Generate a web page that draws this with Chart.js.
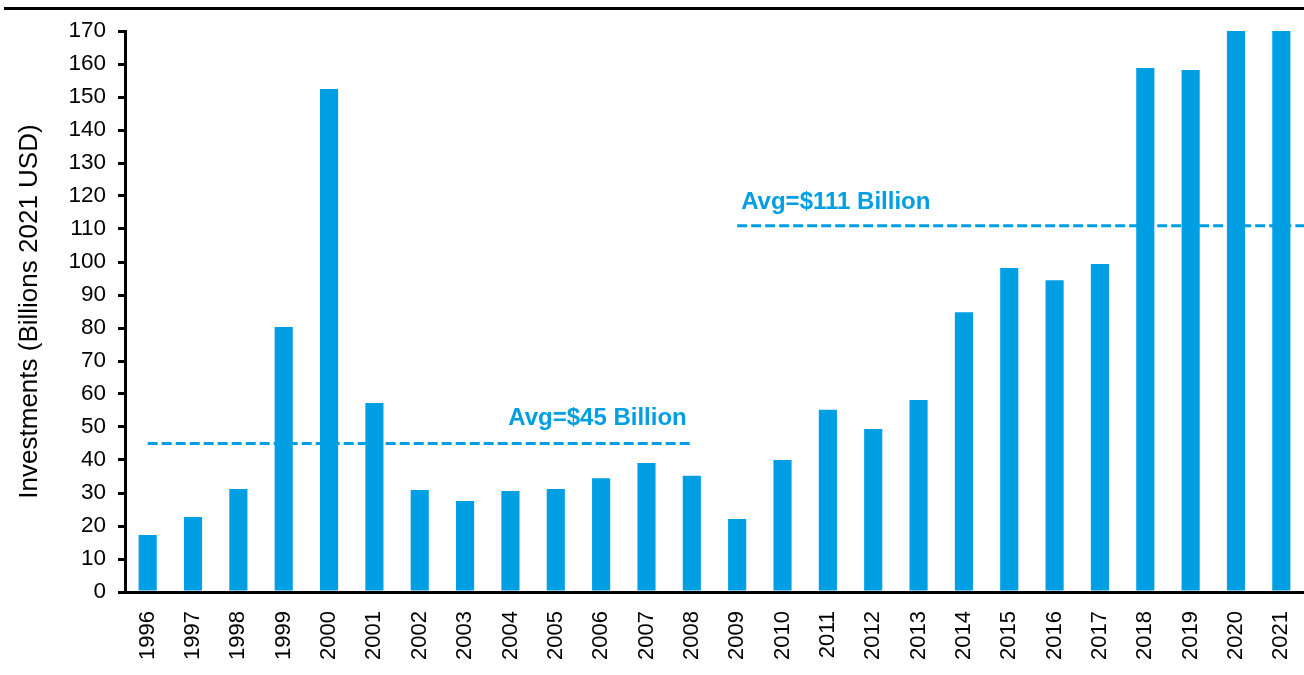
<!DOCTYPE html>
<html>
<head>
<meta charset="utf-8">
<script src="https://cdn.jsdelivr.net/npm/chart.js@4.4.0/dist/chart.umd.min.js"></script>
<style>
  html, body { margin: 0; padding: 0; background: #fff; }
  #wrap { position: relative; width: 1304px; height: 675px; }
  #topline { position: absolute; top: 7px; left: 4px; right: 0; height: 3px; background: #000; }
</style>
</head>
<body>
<div id="wrap">
  <div id="topline"></div>
  <canvas id="myChart" width="1304" height="675"></canvas>
</div>
<script>
const years = ['1996','1997','1998','1999','2000','2001','2002','2003','2004','2005','2006','2007','2008',
               '2009','2010','2011','2012','2013','2014','2015','2016','2017','2018','2019','2020','2021'];
const investments = [17.3, 22.7, 31.2, 80.3, 152.4, 57.3, 30.9, 27.6, 30.6, 31.2, 34.5, 39.1, 35.2,
                     22.1, 40.0, 55.2, 49.4, 58.2, 84.8, 98.2, 94.5, 99.4, 158.8, 158.2, 210, 314];
const avgEarly = [45, 45, 45, 45, 45, 45, 45, 45, 45, 45, 45, 45, 45,
                  null, null, null, null, null, null, null, null, null, null, null, null, null];
const avgLate = [null, null, null, null, null, null, null, null, null, null, null, null, null,
                 111, 111, 111, 111, 111, 111, 111, 111, 111, 111, 111, 111, 111];
const yTicks = [0, 10, 20, 30, 40, 50, 60, 70, 80, 90, 100, 110, 120, 130, 140, 150, 160, 170];

const blue = '#009FE3';
const font = 'Liberation Sans, Arial, sans-serif';
const dash = [10, 4];

// avg labels + stretch the late avg line to the plot edge
const avgLabels = {
    id: 'avgLabels',
    afterDatasetsDraw(chart) {
        const ctx = chart.ctx;
        const x = chart.scales.x, y = chart.scales.y;
        ctx.save();
        const last = avgLate.length - 1;
        ctx.strokeStyle = blue;
        ctx.lineWidth = 3;
        ctx.setLineDash(dash);
        ctx.beginPath();
        ctx.moveTo(x.getPixelForValue(last), y.getPixelForValue(avgLate[last]));
        ctx.lineTo(chart.chartArea.right, y.getPixelForValue(avgLate[last]));
        ctx.stroke();
        ctx.setLineDash([]);

        ctx.fillStyle = blue;
        ctx.font = 'bold 24px ' + font;
        ctx.textBaseline = 'middle';
        ctx.textAlign = 'center';
        ctx.fillText('Avg=$45 Billion', x.getPixelForValue(9.92), y.getPixelForValue(52.7));
        ctx.textAlign = 'left';
        ctx.fillText('Avg=$111 Billion', x.getPixelForValue(13) + 4, y.getPixelForValue(118));
        ctx.restore();
    }
};

function chartIt(){
    const ctx = document.getElementById('myChart').getContext('2d');
    const chart = new Chart(ctx, {
        type: 'bar',
        data: {
            labels: years,
            datasets: [{
                type: 'line',
                data: avgEarly,
                borderColor: blue,
                borderWidth: 3,
                borderDash: dash,
                pointRadius: 0,
                fill: false,
                order: 0
            }, {
                type: 'line',
                data: avgLate,
                borderColor: blue,
                borderWidth: 3,
                borderDash: dash,
                pointRadius: 0,
                fill: false,
                order: 0
            }, {
                label: 'Investments',
                data: investments,
                backgroundColor: blue,
                categoryPercentage: 1.0,
                barPercentage: 0.4,
                order: 1
            }]
        },
        options: {
            responsive: false,
            animation: false,
            layout: { padding: { top: 31, right: 0, left: 0, bottom: 0 } },
            plugins: {
                legend: { display: false },
                tooltip: { enabled: false }
            },
            scales: {
                x: {
                    grid: { display: false },
                    border: { display: true, color: '#000', width: 3 },
                    ticks: {
                        color: '#000',
                        font: { family: font, size: 22 },
                        minRotation: 90,
                        maxRotation: 90,
                        padding: 11,
                        autoSkip: false
                    },
                    afterFit(scale) {
                        scale.height = 83;
                        scale.paddingLeft = 0;
                        scale.paddingRight = 0;
                    }
                },
                y: {
                    min: 0,
                    max: 170,
                    afterBuildTicks(scale) { scale.ticks = yTicks.map(v => ({ value: v })); },
                    grid: { drawOnChartArea: false, drawTicks: true, tickLength: 7, color: '#000', lineWidth: 3 },
                    border: { display: true, color: '#000', width: 3 },
                    ticks: {
                        color: '#000',
                        font: { family: font, size: 22.5 },
                        padding: 12
                    },
                    title: {
                        display: true,
                        text: 'Investments (Billions 2021 USD)',
                        color: '#000',
                        font: { family: font, size: 26 },
                        padding: { top: 14, bottom: 0 }
                    },
                    afterFit(scale) { scale.width = 125; }
                }
            }
        },
        plugins: [avgLabels]
    });
}
chartIt();
</script>
</body>
</html>
